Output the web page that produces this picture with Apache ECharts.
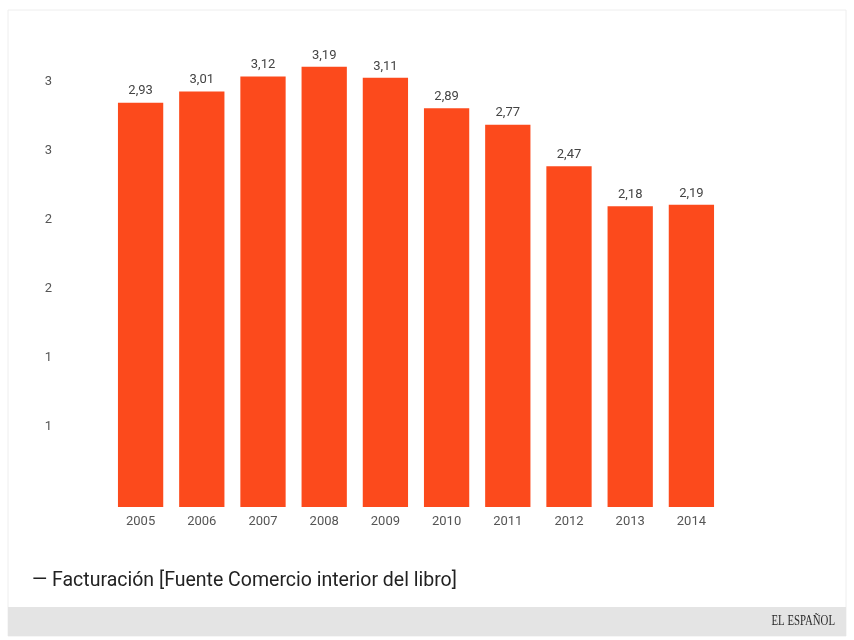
<!DOCTYPE html>
<html>
<head>
<meta charset="utf-8">
<script src="https://cdn.jsdelivr.net/npm/echarts@6/dist/echarts.min.js"></script>
<style>
  html, body { margin: 0; padding: 0; background: #fff; }
  #chart { width: 854px; height: 640px; }
</style>
</head>
<body>
<div id="chart"></div>
<script>
const years = ['2005', '2006', '2007', '2008', '2009', '2010', '2011', '2012', '2013', '2014']
const facturacion = [2.93, 3.01, 3.12, 3.19, 3.11, 2.89, 2.77, 2.47, 2.18, 2.19]
const seriesName = 'Facturación [Fuente Comercio interior del libro]'
const brand = 'EL ESPAÑOL'

const chart = echarts.init(document.getElementById('chart'))

const option = {
    backgroundColor: '#fff',
    textStyle: { fontFamily: 'Roboto, sans-serif' },
    animation: false,
    grid: { left: 110, right: 132, top: 24, bottom: 133 },
    legend: {
        left: 22,
        top: 566,
        itemWidth: 0,
        itemHeight: 0,
        data: [seriesName],
        formatter: name => '— ' + name,
        textStyle: { fontSize: 19.5, color: '#222' }
    },
    xAxis: {
        type: 'category',
        data: years,
        axisLine: { show: false },
        axisTick: { show: false },
        axisLabel: { color: '#555', fontSize: 13, margin: 8 }
    },
    yAxis: {
        type: 'value',
        min: 0,
        max: 3.5,
        interval: 0.5,
        splitLine: { show: false },
        axisLine: { show: false },
        axisTick: { show: false },
        axisLabel: {
            color: '#555',
            fontSize: 13,
            margin: 58,
            verticalAlign: 'bottom',
            padding: [0, 0, 5, 0],
            formatter: v => (v === 0 || v === 3.5) ? '' : String(Math.round(v))
        }
    },
    series: [{
        name: seriesName,
        type: 'bar',
        data: facturacion,
        barCategoryGap: '26%',
        itemStyle: { color: '#fc4a1c' },
        label: {
            show: true,
            position: 'top',
            distance: 5,
            color: '#444',
            fontSize: 13,
            formatter: p => p.value.toFixed(2).replace('.', ',')
        }
    }],
    graphic: [
        {
            type: 'rect',
            shape: { x: 8, y: 10, width: 838, height: 626 },
            style: { fill: 'none', stroke: '#eeeeee', lineWidth: 1 },
            silent: true
        },
        {
            type: 'rect',
            shape: { x: 8, y: 607, width: 838, height: 29 },
            style: { fill: '#e4e4e4' },
            silent: true
        },
        {
            type: 'text',
            x: 835,
            y: 621,
            scaleX: 0.72,
            style: {
                text: brand,
                font: '15px "Liberation Serif", serif',
                fill: '#2a2a2a',
                align: 'right',
                verticalAlign: 'middle'
            }
        }
    ]
}

chart.setOption(option)
</script>
</body>
</html>
